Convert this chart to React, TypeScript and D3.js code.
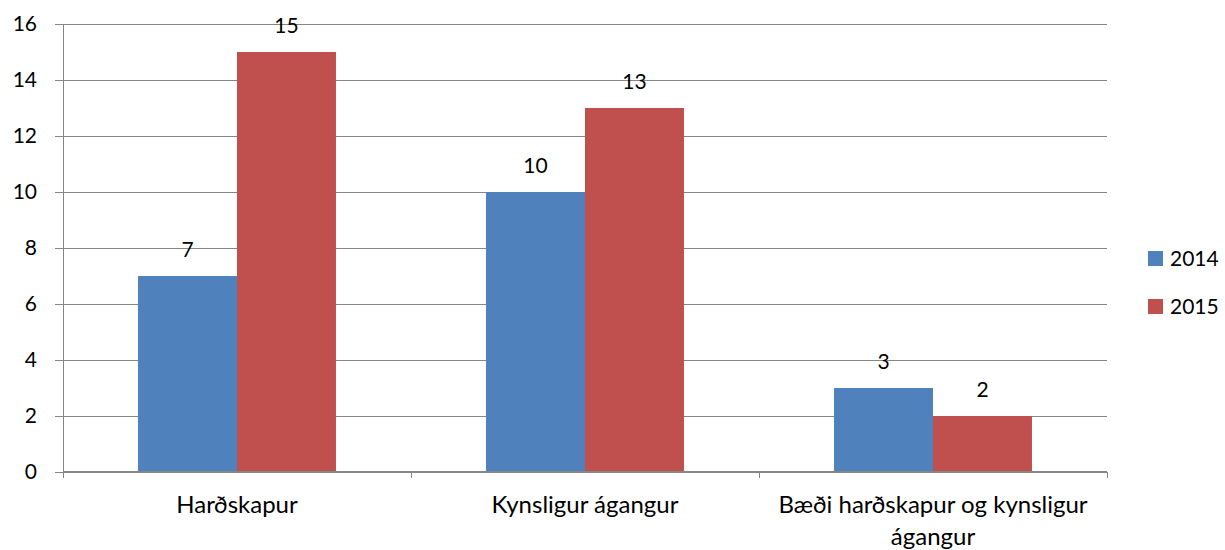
import React from "react";
import * as d3 from "d3";

const categories = ["Harðskapur", "Kynsligur ágangur", "Bæði harðskapur og kynsligur ágangur"];
const seriesNames = ["2014", "2015"];
const values2014 = [7, 10, 3];
const values2015 = [15, 13, 2];
const seriesColors = ["#4F81BD", "#C0504D"];
const yTicks = [0, 2, 4, 6, 8, 10, 12, 14, 16];

const FONT = "Lato, 'Open Sans', sans-serif";

const App = () => {
  const ref = React.useRef<SVGSVGElement>(null);

  React.useEffect(() => {
    const svg = d3.select(ref.current);
    svg.selectAll("*").remove();

    const left = 63, right = 1107, top = 24, bottom = 472;
    const data = [values2014, values2015];

    const x0 = d3.scaleBand<string>().domain(categories).range([left, right]).padding(0);
    const x1 = d3.scaleBand<string>().domain(seriesNames).range([0, x0.bandwidth()])
      .paddingInner(0).paddingOuter(0.758);
    const y = d3.scaleLinear().domain([0, 16]).range([bottom, top]);

    // gridlines
    svg.append("g")
      .selectAll("line")
      .data(yTicks)
      .join("line")
      .attr("x1", left - 8)
      .attr("x2", right)
      .attr("y1", (d) => Math.round(y(d)) + 0.5)
      .attr("y2", (d) => Math.round(y(d)) + 0.5)
      .attr("stroke", "#868686")
      .attr("stroke-width", 1);

    // y tick labels
    svg.append("g")
      .selectAll("text")
      .data(yTicks)
      .join("text")
      .attr("x", 37)
      .attr("y", (d) => y(d) + 7)
      .attr("text-anchor", "end")
      .attr("font-family", FONT)
      .attr("font-size", 21)
      .attr("fill", "#000")
      .text((d) => d);

    // bars
    const groups = svg.append("g")
      .selectAll("g")
      .data(seriesNames)
      .join("g")
      .attr("fill", (_, i) => seriesColors[i]);
    groups.selectAll("rect")
      .data((s, i) => data[i].map((v, j) => ({ s, v, c: categories[j] })))
      .join("rect")
      .attr("x", (d) => (x0(d.c) as number) + (x1(d.s) as number))
      .attr("y", (d) => y(d.v))
      .attr("width", x1.bandwidth())
      .attr("height", (d) => y(0) - y(d.v));

    // value labels
    groups.selectAll("text")
      .data((s, i) => data[i].map((v, j) => ({ s, v, c: categories[j] })))
      .join("text")
      .attr("x", (d) => (x0(d.c) as number) + (x1(d.s) as number) + x1.bandwidth() / 2)
      .attr("y", (d) => y(d.v) - 19)
      .attr("text-anchor", "middle")
      .attr("font-family", FONT)
      .attr("font-size", 21)
      .attr("fill", "#000")
      .text((d) => d.v);

    // axes lines
    svg.append("line")
      .attr("x1", left + 0.5).attr("x2", left + 0.5)
      .attr("y1", top).attr("y2", bottom + 6)
      .attr("stroke", "#868686");
    svg.append("line")
      .attr("x1", left).attr("x2", right)
      .attr("y1", bottom - 0.5).attr("y2", bottom - 0.5)
      .attr("stroke", "#868686");
    const boundaries = categories.map((c) => x0(c) as number).concat([right]);
    svg.append("g")
      .selectAll("line")
      .data(boundaries)
      .join("line")
      .attr("x1", (d) => Math.round(d) + 0.5)
      .attr("x2", (d) => Math.round(d) + 0.5)
      .attr("y1", bottom)
      .attr("y2", bottom + 6)
      .attr("stroke", "#868686");

    // category labels (wrapped)
    const maxWidth = x0.bandwidth() * 0.95;
    categories.forEach((c) => {
      const t = svg.append("text")
        .attr("text-anchor", "middle")
        .attr("font-family", FONT)
        .attr("font-size", 24)
        .attr("fill", "#000");
      const cx = (x0(c) as number) + x0.bandwidth() / 2;
      const words = c.split(" ");
      let line: string[] = [];
      let lineNo = 0;
      let tspan = t.append("tspan").attr("x", cx).attr("y", 513);
      words.forEach((w) => {
        line.push(w);
        tspan.text(line.join(" "));
        if ((tspan.node() as SVGTSpanElement).getComputedTextLength() > maxWidth && line.length > 1) {
          line.pop();
          tspan.text(line.join(" "));
          line = [w];
          lineNo++;
          tspan = t.append("tspan").attr("x", cx).attr("y", 513 + lineNo * 32).text(w);
        }
      });
    });

    // legend
    const legend = svg.append("g")
      .selectAll("g")
      .data(seriesNames)
      .join("g")
      .attr("transform", (_, i) => `translate(1148, ${251 + i * 48})`);
    legend.append("rect")
      .attr("width", 15)
      .attr("height", 15)
      .attr("fill", (_, i) => seriesColors[i]);
    legend.append("text")
      .attr("x", 22)
      .attr("y", 15)
      .attr("font-family", FONT)
      .attr("font-size", 21)
      .attr("fill", "#000")
      .text((d) => d);
  }, []);

  return (
    <svg ref={ref} width={1225} height={550}
      style={{ position: "absolute", left: 0, top: 0, background: "#fff" }} />
  );
};

export default App;
